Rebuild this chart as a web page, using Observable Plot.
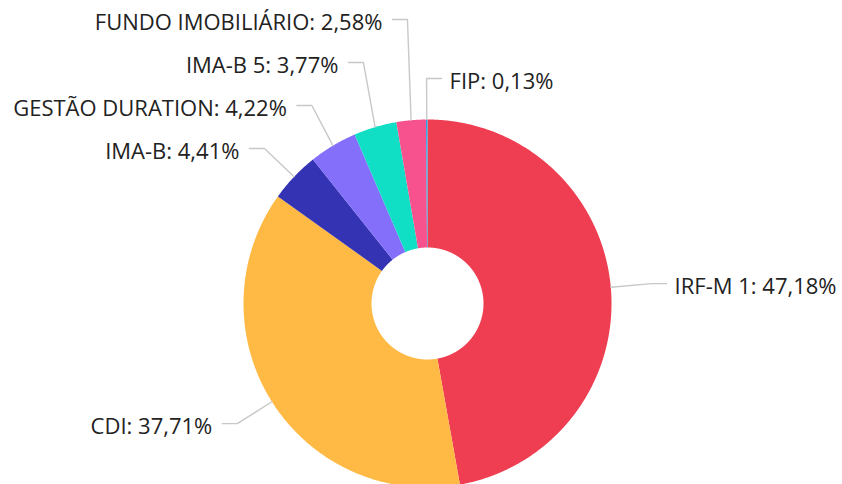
<!DOCTYPE html>
<html><head><meta charset="utf-8">
<script src="https://cdn.jsdelivr.net/npm/d3@7"></script>
<script src="https://cdn.jsdelivr.net/npm/@observablehq/plot@0.6"></script>
<style>body{margin:0;background:#fff}</style>
</head><body><div id="chart"></div>
<script>
const categories = ["IRF-M 1", "CDI", "IMA-B", "GESTÃO DURATION", "IMA-B 5", "FUNDO IMOBILIÁRIO", "FIP"];
const shares = [47.18, 37.71, 4.41, 4.22, 3.77, 2.58, 0.13];
const colors = ["#EF3E52", "#FFBA45", "#3333B4", "#846FFB", "#10DFC6", "#F7528E", "#20A4E4"];

const W = 842, H = 484, CX = 427, CY = 303, R = 184, R0 = 56;
const data = categories.map((name, i) => ({name, value: shares[i]}));
const arcs = d3.pie().sort(null).value(d => d.value)(data);

// ring polygons (unit coordinates, y up, angle clockwise from 12 o'clock)
const ring = [];
const rin = R0 / R;
for (const a of arcs) {
  const n = Math.max(2, Math.ceil((a.endAngle - a.startAngle) / 0.005));
  for (let k = 0; k <= n; k++) {
    const t = a.startAngle + (a.endAngle - a.startAngle) * k / n;
    ring.push({name: a.data.name, x: Math.sin(t), y: Math.cos(t)});
  }
  for (let k = n; k >= 0; k--) {
    const t = a.startAngle + (a.endAngle - a.startAngle) * k / n;
    ring.push({name: a.data.name, x: rin * Math.sin(t), y: rin * Math.cos(t)});
  }
}

// label layout
const fmt = v => v.toFixed(2).replace(".", ",") + "%";
const rb = (R + 41) / R;
const labels = arcs.map(a => {
  const mid = (a.startAngle + a.endAngle) / 2;
  const right = Math.sin(mid) > -0.05;
  const bx = rb * Math.sin(mid);
  const py = CY - rb * Math.cos(mid) * R; // pixel y
  return {name: a.data.name, label: a.data.name + ": " + fmt(a.data.value), right, bx, py,
          ex: Math.sin(mid), ey: Math.cos(mid)};
});
// push crowded labels upward, per side
for (const side of [true, false]) {
  const s = labels.filter(d => d.right === side).sort((a, b) => b.py - a.py);
  let prev = Infinity;
  for (const d of s) { d.py = Math.min(d.py, prev - 43); prev = d.py; }
}
const seg = 15 / R;
labels.forEach(d => {
  d.ly = (CY - d.py) / R;
  d.sx = d.bx + (d.right ? seg : -seg);
  d.tx = d.bx + (d.right ? (15 + 8) / R : -(15 + 10) / R);
});
const leaders = labels.flatMap(d => [
  {name: d.name, x: d.sx, y: d.ly},
  {name: d.name, x: d.bx, y: d.ly},
  {name: d.name, x: d.ex, y: d.ey}
]);

const chart = Plot.plot({
  width: W, height: H, margin: 0,
  x: {domain: [-1, 1], range: [CX - R, CX + R], axis: null},
  y: {domain: [-1, 1], range: [CY + R, CY - R], axis: null},
  color: {domain: categories, range: colors},
  style: {fontFamily: "'Open Sans', sans-serif", background: "#fff", overflow: "hidden"},
  marks: [
    Plot.line(ring, {x: "x", y: "y", z: "name", fill: "name", stroke: "none", curve: "linear-closed"}),
    Plot.line(leaders, {x: "x", y: "y", z: "name", stroke: "#c8c8c8", strokeWidth: 1.4}),
    Plot.text(labels.filter(d => d.right), {x: "tx", y: "ly", text: "label", textAnchor: "start", dy: 3, fontSize: 22, fill: "#222"}),
    Plot.text(labels.filter(d => !d.right), {x: "tx", y: "ly", text: "label", textAnchor: "end", dy: 3, fontSize: 22, fill: "#222"})
  ]
});
document.getElementById("chart").appendChild(chart);
</script>
</body></html>
